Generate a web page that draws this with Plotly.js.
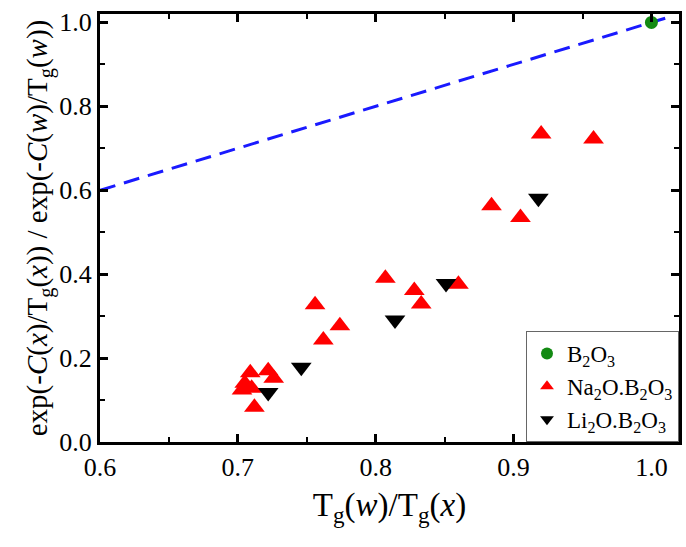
<!DOCTYPE html>
<html>
<head>
<meta charset="utf-8">
<script src="https://cdn.plot.ly/plotly-3.0.1.min.js"></script>
<style>
  html, body { margin: 0; padding: 0; background: #fff; }
  #chart { width: 686px; height: 547px; }
</style>
</head>
<body>
<div id="chart"></div>
<script>
const B2O3_X = [1.0];
const B2O3_Y = [1.0];

const NA_X = [0.703, 0.705, 0.710, 0.709, 0.712, 0.722, 0.726, 0.756, 0.762, 0.774,
              0.807, 0.828, 0.833, 0.860, 0.884, 0.905, 0.920, 0.958];
const NA_Y = [0.124, 0.140, 0.128, 0.165, 0.083, 0.170, 0.152, 0.327, 0.243, 0.277,
              0.390, 0.361, 0.329, 0.376, 0.563, 0.535, 0.734, 0.722];

const LI_X = [0.722, 0.746, 0.814, 0.851, 0.918];
const LI_Y = [0.118, 0.178, 0.291, 0.378, 0.581];

const GUIDE_X = [0.6, 1.01];
const GUIDE_Y = [0.6, 1.01];

const FONT = 'Liberation Serif, Times New Roman, serif';

const axisBase = {
  showline: true, linecolor: '#000', linewidth: 3, mirror: 'ticks',
  ticks: 'inside', ticklen: 8, tickwidth: 3, tickcolor: '#000',
  showgrid: false, zeroline: false,
  tickfont: { family: FONT, size: 26, color: '#000' },
};

Plotly.newPlot('chart', [
  {
    x: GUIDE_X, y: GUIDE_Y, mode: 'lines', showlegend: false, hoverinfo: 'skip',
    line: { color: '#1a1aff', width: 3, dash: '16px,9px' },
  },
  {
    x: B2O3_X, y: B2O3_Y, mode: 'markers', name: 'B<sub>2</sub>O<sub>3</sub>',
    marker: { symbol: 'circle', size: 13, color: '#138a13' },
  },
  {
    x: NA_X, y: NA_Y, mode: 'markers', name: 'Na<sub>2</sub>O.B<sub>2</sub>O<sub>3</sub>',
    marker: { symbol: 'triangle-up', size: 18, color: '#ff0000' },
  },
  {
    x: LI_X, y: LI_Y, mode: 'markers', name: 'Li<sub>2</sub>O.B<sub>2</sub>O<sub>3</sub>',
    marker: { symbol: 'triangle-down', size: 18, color: '#000000' },
  },
], {
  width: 686, height: 547,
  paper_bgcolor: '#fff', plot_bgcolor: '#fff',
  margin: { l: 100, r: 7, t: 14, b: 105 },
  font: { family: FONT, color: '#000' },
  xaxis: Object.assign({}, axisBase, {
    range: [0.6, 1.02], tickvals: [0.6, 0.7, 0.8, 0.9, 1.0], ticktext: ['0.6', '0.7', '0.8', '0.9', '1.0'],
    minor: { dtick: 0.05, ticks: 'inside', ticklen: 5, tickwidth: 2, tickcolor: '#000' },
    title: { text: 'T<sub>g</sub>(<i>w</i>)/T<sub>g</sub>(<i>x</i>)', font: { family: FONT, size: 33, color: '#000' }, standoff: 12 },
  }),
  yaxis: Object.assign({}, axisBase, {
    range: [0, 1.02], tickvals: [0, 0.2, 0.4, 0.6, 0.8, 1.0], ticktext: ['0.0', '0.2', '0.4', '0.6', '0.8', '1.0'],
    minor: { dtick: 0.1, ticks: 'inside', ticklen: 5, tickwidth: 2, tickcolor: '#000' },
    title: { text: 'exp(-<i>C</i>(<i>x</i>)/T<sub>g</sub>(<i>x</i>)) / exp(-<i>C</i>(<i>w</i>)/T<sub>g</sub>(<i>w</i>))', font: { family: FONT, size: 29, color: '#000' }, standoff: 4 },
  }),
  legend: {
    x: 1, y: 0, xanchor: 'right', yanchor: 'bottom',
    bgcolor: '#fff', bordercolor: '#666', borderwidth: 1,
    font: { family: FONT, size: 23, color: '#000' },
    tracegroupgap: 0, itemsizing: 'constant',
  },
}, { displayModeBar: false });
</script>
</body>
</html>
